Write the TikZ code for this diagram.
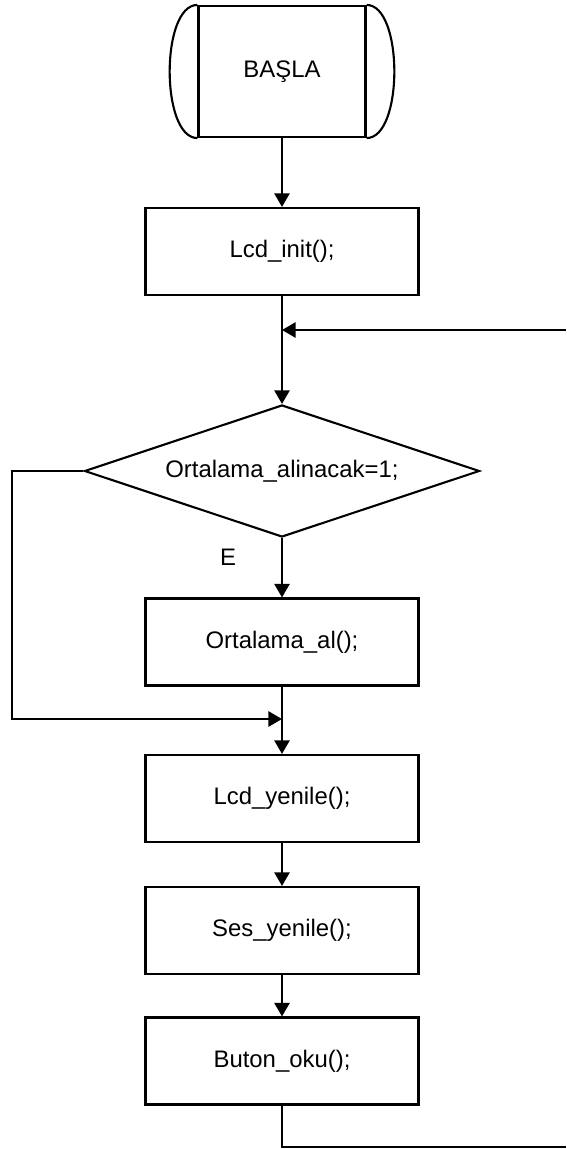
\documentclass[tikz,border=0pt]{standalone}
\usepackage{fontspec}
\setmainfont{Liberation Sans}
\usetikzlibrary{shapes.geometric,arrows.meta}

\tikzset{
	islem/.style={draw, rectangle, minimum width=6.825cm, minimum height=2.175cm, inner sep=0pt},
	kararstil/.style={draw, diamond, aspect=3, minimum width=9.875cm, minimum height=3.3cm, inner sep=0pt},
	akis/.style={-{Triangle[length=0.34cm,width=0.38cm]}}
}

\begin{document}
\begin{tikzpicture}[x=0.025cm, y=-0.025cm, line width=1.5pt, font=\fontsize{17}{20}\selectfont]
		\useasboundingbox (0,0) rectangle (566,1149);
		\node[draw, rectangle, minimum width=4.175cm, minimum height=3.275cm, inner sep=0pt] (basla) at (282,71.5) {BAŞLA};
		\draw (basla.north east) .. controls +(37,0) and +(37,0) .. (basla.south east);
		\draw (basla.north west) .. controls +(-37,0) and +(-37,0) .. (basla.south west);
		\node[islem] (init) at (282,251.5) {Lcd\_init();};
		\node[kararstil] (karar) at (282,471) {Ortalama\_alinacak=1;};
		\node[islem] (ortalama) at (282,642) {Ortalama\_al();};
		\node[islem] (yenile) at (282,798.5) {Lcd\_yenile();};
		\node[islem] (ses) at (282,930.5) {Ses\_yenile();};
		\node[islem] (buton) at (282,1061) {Buton\_oku();};
		\node (evet) at (228,557) {E};
		\coordinate (donusalt) at (566,1147);
		\coordinate (donusust) at (566,330);
		\coordinate (birles) at (282,719);
		\draw [akis] (basla) -- (init);
		\draw [akis] (init) -- (karar);
		\draw [akis] (donusust) -- (init.south |- donusust);
		\draw [akis] (karar) -- (ortalama);
		\draw [akis] (karar.west) -- ++(-71,0) |- (birles);
		\draw [akis] (ortalama) -- (yenile);
		\draw [akis] (yenile) -- (ses);
		\draw [akis] (ses) -- (buton);
		\draw (buton.south) |- (donusalt);
		\end{tikzpicture}
\end{document}
